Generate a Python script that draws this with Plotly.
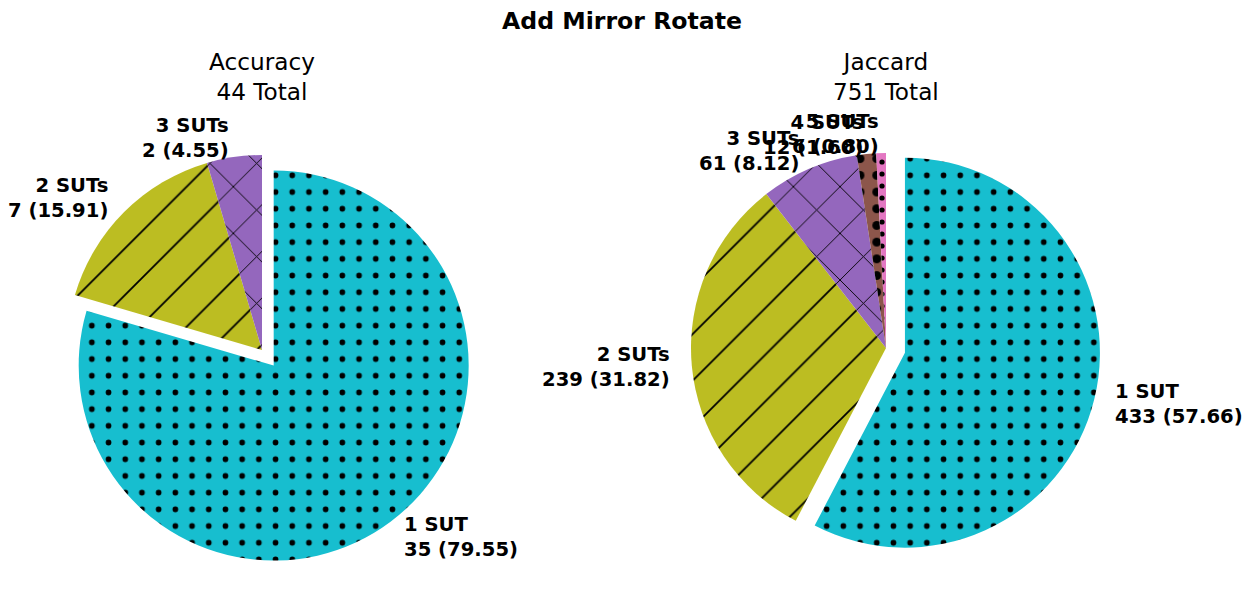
import math
import plotly.graph_objects as go

# ---- data ----
categories = ["1 SUT", "2 SUTs", "3 SUTs", "4 SUTs", "5 SUTs"]
acc_values = [35, 7, 2]
jac_values = [433, 239, 61, 12, 6]
titles = ["Accuracy", "Jaccard"]
suptitle = "Add Mirror Rotate"

colors = ["#17becf", "#bcbd22", "#9467bd", "#8c564b", "#e377c2"]
shapes = [".", "/", "x", ".", "."]
psizes = [16.7, 33, 33, 16.7, 12]
psolid = [0.09, 0.055, 0.055, 0.22, 0.15]
pulls = [0.1, 0, 0, 0, 0]

W, H = 1249, 603
R = 195
centers = [(262, 350), (886, 348)]
LABEL_FONT = dict(family="DejaVu Sans", size=19.6, color="black")

fig = go.Figure()
annotations = []

for k, (vals, title) in enumerate([(acc_values, titles[0]), (jac_values, titles[1])]):
    n = len(vals)
    cx, cy = centers[k]
    maxpull = max(pulls[:n])
    half = R * (1 + maxpull)
    dom_x = [(cx - half) / W, (cx + half) / W]
    dom_y = [(H - cy - half) / H, (H - cy + half) / H]
    fig.add_trace(go.Pie(
        labels=categories[:n], values=vals, sort=False, direction="clockwise",
        rotation=0, pull=pulls[:n], textinfo="none", hoverinfo="label+value+percent",
        domain=dict(x=dom_x, y=dom_y), showlegend=False,
        marker=dict(colors=colors[:n], line=dict(width=0),
                    pattern=dict(shape=shapes[:n], fgcolor="black",
                                 bgcolor=colors[:n], size=psizes[:n],
                                 solidity=psolid[:n], fillmode="replace")),
    ))
    total = sum(vals)
    cum = 0.0
    for i, v in enumerate(vals):
        frac = v / total
        theta = math.radians(90 - 360 * (cum + frac / 2))
        cum += frac
        dist = (pulls[i] + 1.1) * R
        x = cx + dist * math.cos(theta)
        y = cy - dist * math.sin(theta)
        right = math.cos(theta) > 0
        annotations.append(dict(
            x=x / W, y=1 - y / H, xref="paper", yref="paper",
            xanchor="left" if right else "right", yanchor="middle",
            align="left" if right else "right", showarrow=False,
            text=f"<b>{categories[i]}<br>{v} ({100 * frac:.2f})</b>",
            font=LABEL_FONT))
    annotations.append(dict(
        x=cx / W, y=1 - 77 / H, xref="paper", yref="paper",
        xanchor="center", yanchor="middle", showarrow=False,
        text=f"{title}<br>{total} Total",
        font=dict(family="DejaVu Sans", size=23.2, color="black")))

annotations.append(dict(
    x=0.498, y=1 - 21 / H, xref="paper", yref="paper", xanchor="center",
    yanchor="middle", showarrow=False, text=f"<b>{suptitle}</b>",
    font=dict(family="DejaVu Sans", size=23.6, color="black")))

fig.update_layout(
    width=W, height=H, margin=dict(l=0, r=0, t=0, b=0),
    paper_bgcolor="white", plot_bgcolor="white",
    annotations=annotations,
)

fig.write_html("out.html")
